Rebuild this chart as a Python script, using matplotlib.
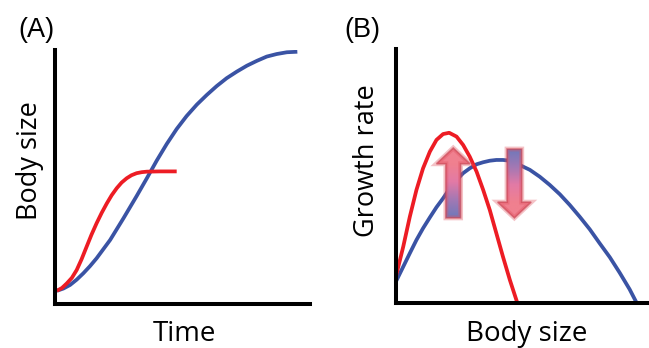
import numpy as np
import matplotlib
matplotlib.use('Agg')
import matplotlib.pyplot as plt
from matplotlib.patches import Polygon
from matplotlib.colors import LinearSegmentedColormap

# panel A: body size vs time (axis units 0-100)
timeBlue = [0.9, 3.5, 6.1, 8.7, 11.3, 13.9, 16.5, 21.8, 27.0, 32.2, 36.2, 40.1, 44.0, 47.9, 51.8, 55.8,
            59.7, 63.6, 67.5, 71.5, 75.4, 79.3, 83.2, 87.1, 91.1, 95.2]
sizeBlue = [5.2, 6.1, 7.5, 9.6, 12.1, 14.9, 18.0, 25.2, 33.7, 42.5, 49.5, 56.5, 63.0, 68.9, 74.0, 78.5,
            82.3, 85.8, 88.9, 91.5, 93.8, 95.7, 97.4, 98.4, 99.1, 99.3]
timeRed = [0.9, 2.9, 4.8, 6.8, 8.7, 10.6, 12.6, 14.5, 16.5, 18.5, 20.5, 22.4, 24.4, 26.3, 28.3, 30.2,
           32.2, 34.2, 36.2, 41.4, 47.9]
sizeRed = [5.2, 6.3, 8.1, 10.3, 13.4, 17.6, 22.6, 27.3, 31.8, 35.9, 39.6, 42.8, 45.6, 47.8, 49.5, 50.7,
           51.5, 51.9, 52.1, 52.2, 52.2]

# panel B: growth rate vs body size
bsRed = [0, 2.9, 5.5, 8.1, 10.7, 13.4, 16.0, 18.6, 21.0, 23.9, 26.5, 29.1, 31.8, 34.4, 37.0, 39.6, 42.2, 44.9, 47.9]
grRed = [10.6, 22.4, 34.2, 44.7, 53.2, 59.8, 64.4, 66.7, 67.2, 65.7, 62.4, 57.8, 51.9, 44.7, 36.8, 27.6, 18.4, 9.3, 0.1]
bsBlue = [0, 2.9, 5.5, 8.1, 10.7, 13.4, 16.0, 18.6, 21.3, 23.9, 26.5, 29.1, 31.8, 34.4, 37.0, 39.6,
          42.2, 44.9, 48.8, 52.8, 56.7, 60.6, 64.6, 68.5, 72.4, 76.4, 80.3, 84.3, 88.2, 92.1, 95.0]
grBlue = [8.6, 14.5, 19.8, 25.0, 29.6, 33.9, 37.9, 41.4, 45.4, 48.6, 51.3, 53.2, 54.8, 55.6, 56.2, 56.5,
          56.5, 56.2, 54.5, 52.6, 49.9, 46.7, 43.0, 38.8, 34.2, 29.2, 23.7, 18.2, 12.1, 5.6, 0]

# arrows in panel B: (x centre, y start, y tip)
arrowUp = (22.6, 33.7, 61.2)
arrowDown = (46.7, 60.8, 33.7)

RED = '#ed1c24'
BLUE = '#3a53a4'

grad = LinearSegmentedColormap.from_list('arr', ['#6f78ba', '#a278b4', '#e27aa6', '#f0808f'])


def draw_arrow(ax, arrow, shaft_w=5.8, head_w=13.2, head_len=6.2):
    xc, y0, y1 = arrow
    s = np.sign(y1 - y0)
    yh = y1 - s * head_len
    verts = [(xc - shaft_w / 2, y0), (xc + shaft_w / 2, y0), (xc + shaft_w / 2, yh),
             (xc + head_w / 2, yh), (xc, y1), (xc - head_w / 2, yh), (xc - shaft_w / 2, yh)]
    glow = Polygon(verts, closed=True, fc='none', ec='#e0505e', lw=3.5, alpha=0.35, joinstyle='miter')
    edge = Polygon(verts, closed=True, fc='none', ec='#c8404f', lw=1.2, alpha=0.6, joinstyle='miter')
    clip = Polygon(verts, closed=True, fc='none', ec='none')
    ax.add_patch(clip)
    ylo, yhi = min(y0, y1), max(y0, y1)
    yy = np.linspace(ylo, yhi, 200)
    t = np.clip((yy - y0) / (yh - y0), 0, 1).reshape(-1, 1)
    im = ax.imshow(t, extent=[xc - head_w / 2, xc + head_w / 2, ylo, yhi], origin='lower',
                   cmap=grad, vmin=0, vmax=1, aspect='auto', zorder=3)
    im.set_clip_path(clip)
    ax.add_patch(glow)
    ax.add_patch(edge)
    glow.set_zorder(4)
    edge.set_zorder(4)


fig = plt.figure(figsize=(6.49, 3.48), dpi=100)
axA = fig.add_axes([0.084, 0.1264, 0.393, 0.730])
axB = fig.add_axes([0.610, 0.1279, 0.391, 0.730])

lw = 2.7
axA.plot(timeBlue, sizeBlue, color=BLUE, lw=lw, solid_capstyle='butt', solid_joinstyle='round')
axA.plot(timeRed, sizeRed, color=RED, lw=lw, solid_capstyle='butt', solid_joinstyle='round')

axB.plot(bsBlue, grBlue, color=BLUE, lw=lw, solid_capstyle='butt', solid_joinstyle='round', clip_on=False)
axB.plot(bsRed, grRed, color=RED, lw=lw, solid_capstyle='butt', solid_joinstyle='round', clip_on=False)
draw_arrow(axB, arrowUp)
draw_arrow(axB, arrowDown)

axA.set_xlabel('Time', family='Open Sans', size=20, va='baseline')
axA.set_ylabel('Body size', family='Open Sans', size=19.5, va='center')
axB.set_xlabel('Body size', family='Open Sans', size=20, va='baseline')
axB.set_ylabel('Growth rate', family='Open Sans', size=19.5, va='center')
axA.xaxis.set_label_coords(0.508, -0.146)
axB.xaxis.set_label_coords(0.516, -0.148)
axA.yaxis.set_label_coords(-0.096, 0.563)
axB.yaxis.set_label_coords(-0.114, 0.563)

for ax in (axA, axB):
    ax.set_xlim(0, 100)
    ax.set_ylim(0, 100)
    ax.set_xticks([])
    ax.set_yticks([])
    ax.spines['top'].set_visible(False)
    ax.spines['right'].set_visible(False)
    ax.spines['left'].set_linewidth(2.9)
    ax.spines['bottom'].set_linewidth(2.9)
    ax.patch.set_alpha(0)

fig.text(18 / 649, 1 - 36.6 / 348, '(A)', family='Liberation Sans', size=19.5, va='baseline', ha='left')
fig.text(344 / 649, 1 - 36.6 / 348, '(B)', family='Liberation Sans', size=19.5, va='baseline', ha='left')

fig.savefig('out.png', dpi=100)
